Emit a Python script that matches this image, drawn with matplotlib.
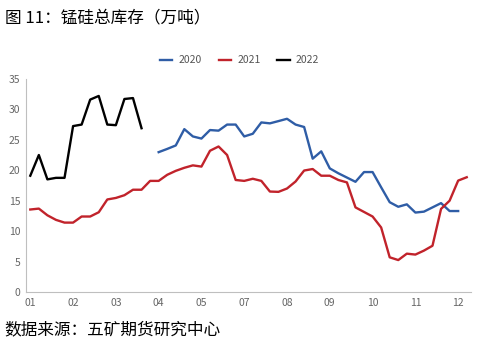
import matplotlib.pyplot as plt

plt.rcParams['font.family'] = ['Noto Sans CJK SC', 'DejaVu Sans']

# weekly stock, 10k tonnes
s2020 = [22.97, 23.5, 24.07, 26.75, 25.55, 25.2, 26.6, 26.5, 27.5, 27.5,
         25.55, 25.99, 27.85, 27.7, 28.07, 28.45, 27.5, 27.1, 21.9, 23.1,
         20.3, 19.5, 18.8, 18.1, 19.7, 19.7, 17.2, 14.75, 14.0, 14.4,
         13.05, 13.2, 13.9, 14.6, 13.3, 13.3]
s2021 = [13.55, 13.7, 12.6, 11.85, 11.4, 11.4, 12.4, 12.4, 13.1, 15.2,
         15.45, 15.9, 16.8, 16.8, 18.25, 18.25, 19.25, 19.9, 20.4, 20.8,
         20.6, 23.2, 23.9, 22.5, 18.4, 18.25, 18.6, 18.25, 16.5, 16.45,
         17.0, 18.15, 19.95, 20.2, 19.1, 19.1, 18.4, 18.0, 13.9, 13.15,
         12.4, 10.6, 5.7, 5.25, 6.3, 6.15, 6.8, 7.6, 13.65, 15.0,
         18.3, 18.85]
s2022 = [19.1, 22.5, 18.5, 18.75, 18.75, 27.25, 27.5, 31.6, 32.2, 27.5,
         27.4, 31.7, 31.85, 26.9]
start2020 = 15
tick_labels = ['01', '02', '03', '04', '05', '07', '08', '09', '10', '11', '12']

fig = plt.figure(figsize=(4.79, 3.57), dpi=100)
ax = fig.add_axes([0.0543, 0.182, 0.929, 0.597])

ax.plot(range(start2020, start2020 + len(s2020)), s2020, color='#2F5DA6', lw=1.7, label='2020')
ax.plot(range(len(s2021)), s2021, color='#C1232B', lw=1.7, label='2021')
ax.plot(range(len(s2022)), s2022, color='black', lw=1.7, label='2022')

ax.set_xlim(-0.5, 51.5)
ax.set_ylim(0, 35)
ax.set_yticks(range(0, 36, 5))
ax.set_xticks(range(0, 51, 5))
ax.set_xticklabels(tick_labels)
ax.tick_params(colors='#666666', labelsize=7.5, length=0, pad=4)
for side in ['top', 'right']:
    ax.spines[side].set_visible(False)
for side in ['left', 'bottom']:
    ax.spines[side].set_color('#BFBFBF')

leg = ax.legend(loc='lower center', bbox_to_anchor=(0.48, 1.02), ncol=3, frameon=False,
                fontsize=7.5, handlelength=1.2, columnspacing=1.6, handletextpad=0.6)
for t in leg.get_texts():
    t.set_color('#555555')

fig.text(0.01, 0.95, '图 11：锰硅总库存（万吨）', fontsize=12, va='center')
fig.text(0.01, 0.075, '数据来源：五矿期货研究中心', fontsize=12, va='center')

fig.savefig('out.png', dpi=100)
